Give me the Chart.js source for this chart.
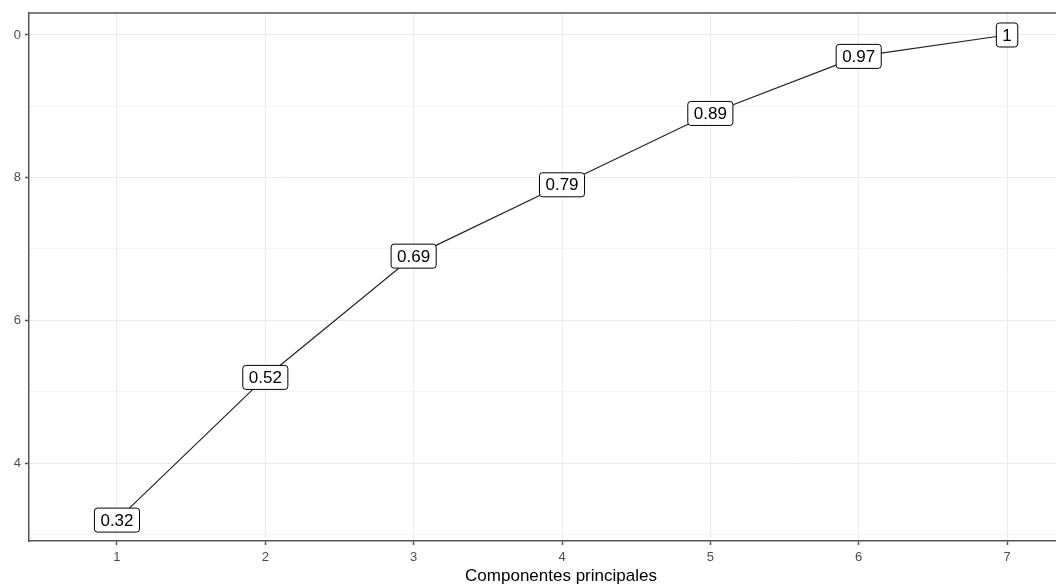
<!DOCTYPE html>
<html>
<head>
<meta charset="utf-8">
<script src="https://cdn.jsdelivr.net/npm/chart.js@4.4.1/dist/chart.umd.min.js"></script>
<style>
  html, body { margin: 0; padding: 0; background: #fff; }
  #wrap { width: 1056px; height: 584px; }
</style>
</head>
<body>
<div id="wrap"><canvas id="pcaChart" width="1056" height="584"></canvas></div>
<script>
// Data
const components = [1, 2, 3, 4, 5, 6, 7];
const cumulativeVariance = [0.32, 0.52, 0.69, 0.79, 0.89, 0.97, 1];
const pointLabels = ['0.32', '0.52', '0.69', '0.79', '0.89', '0.97', '1'];

// Y ticks: major ones carry a label (cropped on the left in the original), minor ones don't
const yTickValues = [0.3, 0.4, 0.5, 0.6, 0.7, 0.8, 0.9, 1.0];
const yTickLabels = ['', '4', '', '6', '', '8', '', '0'];
const xTickValues = [1, 2, 3, 4, 5, 6, 7];
const xTitle = 'Componentes principales';

const fontFamily = '"Liberation Sans", Arial, sans-serif';
const axisColor = '#555555';
const gridColor = '#EBEBEB';
const tickTextColor = '#4D4D4D';

// Top panel border and x axis title (the panel runs past the right edge of the picture)
const panelExtras = {
    id: 'panelExtras',
    afterDraw(chart) {
        const { ctx, chartArea } = chart;
        ctx.save();
        ctx.strokeStyle = axisColor;
        ctx.lineWidth = 1.5;
        ctx.beginPath();
        ctx.moveTo(chartArea.left, chartArea.top);
        ctx.lineTo(chartArea.right, chartArea.top);
        ctx.stroke();

        ctx.fillStyle = '#000000';
        ctx.font = '17px ' + fontFamily;
        ctx.textAlign = 'center';
        ctx.textBaseline = 'middle';
        ctx.fillText(xTitle, 561, 576);
        ctx.restore();
    }
};

// ggplot-style geom_label boxes
const valueLabels = {
    id: 'valueLabels',
    afterDatasetsDraw(chart) {
        const { ctx } = chart;
        const meta = chart.getDatasetMeta(0);
        ctx.save();
        ctx.font = '17px ' + fontFamily;
        ctx.textAlign = 'center';
        ctx.textBaseline = 'middle';
        meta.data.forEach(function(pt, i) {
            const text = pointLabels[i];
            const w = ctx.measureText(text).width + 12;
            const h = 24;
            const x = pt.x - w / 2;
            const y = pt.y - h / 2;
            ctx.beginPath();
            ctx.roundRect(x, y, w, h, 3);
            ctx.fillStyle = '#ffffff';
            ctx.fill();
            ctx.strokeStyle = '#000000';
            ctx.lineWidth = 1;
            ctx.stroke();
            ctx.fillStyle = '#000000';
            ctx.fillText(text, pt.x, pt.y + 1);
        });
        ctx.restore();
    }
};

const ctx = document.getElementById('pcaChart').getContext('2d');
new Chart(ctx, {
    type: 'line',
    data: {
        datasets: [{
            data: components.map((c, i) => ({ x: c, y: cumulativeVariance[i] })),
            borderColor: '#222222',
            borderWidth: 1.2,
            pointRadius: 0,
            tension: 0
        }]
    },
    options: {
        responsive: false,
        animation: false,
        layout: { padding: { top: 13, left: 0, right: 0, bottom: 0 } },
        plugins: {
            legend: { display: false },
            tooltip: { enabled: false }
        },
        scales: {
            x: {
                type: 'linear',
                min: 0.407,
                max: 7.33,
                afterBuildTicks(scale) {
                    scale.ticks = xTickValues.map(v => ({ value: v }));
                },
                afterFit(scale) { scale.height = 43; },
                ticks: {
                    color: tickTextColor,
                    font: { family: fontFamily, size: 13 },
                    padding: 5,
                    maxRotation: 0
                },
                grid: {
                    color: gridColor,
                    lineWidth: 1,
                    tickLength: 4,
                    tickColor: axisColor,
                    tickWidth: 1.5
                },
                border: { color: axisColor, width: 1.5 }
            },
            y: {
                type: 'linear',
                min: 0.2907,
                max: 1.0308,
                afterBuildTicks(scale) {
                    scale.ticks = yTickValues.map(v => ({ value: v }));
                },
                afterFit(scale) { scale.width = 29; },
                ticks: {
                    color: tickTextColor,
                    font: { family: fontFamily, size: 13 },
                    padding: 4,
                    callback: function(value, index) { return yTickLabels[index]; }
                },
                grid: {
                    color: function(c) { return yTickLabels[c.index] ? gridColor : '#F4F4F4'; },
                    lineWidth: 1,
                    tickLength: 4,
                    tickColor: function(c) { return yTickLabels[c.index] ? axisColor : 'rgba(0,0,0,0)'; },
                    tickWidth: 1.5
                },
                border: { color: axisColor, width: 1.5 }
            }
        }
    },
    plugins: [panelExtras, valueLabels]
});
</script>
</body>
</html>
